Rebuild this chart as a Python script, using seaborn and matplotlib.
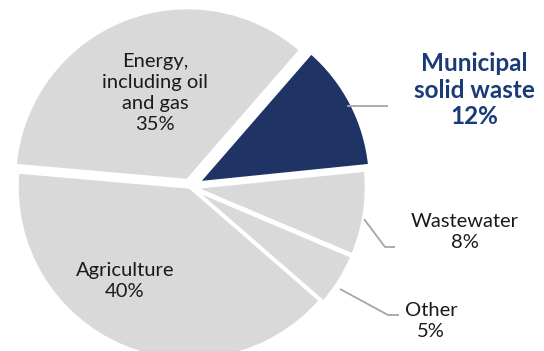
import matplotlib
matplotlib.use("Agg")
import seaborn as sns
import matplotlib.pyplot as plt

sns.set_theme(style="white")
plt.rcParams['font.family'] = ['Lato', 'DejaVu Sans']

# data (clockwise from the left)
sources = ["Energy,\nincluding oil\nand gas", "Municipal\nsolid waste", "Wastewater", "Other", "Agriculture"]
shares = [35, 12, 8, 5, 40]
explode = [0.04, 0.05, 0.02, 0.02, 0.0]

grey = "#d9d9d9"
navy = "#1f3364"
colors = [grey, navy, grey, grey, grey]

W, H = 544, 351
R = 173.0           # pie radius in pixels
CX, CY = 190, 187   # pie centre in pixels (from top-left)


def px(x, y):
    """pixel position -> data coords (pie radius = 1)"""
    return (x - CX) / R, (CY - y) / R


fig = plt.figure(figsize=(W / 100, H / 100), dpi=100)
ax = fig.add_axes([0, 0, 1, 1])
ax.pie(shares, colors=colors, explode=explode, startangle=175, counterclock=False,
       wedgeprops=dict(edgecolor="white", linewidth=2.5))
ax.set_aspect("auto")
ax.set_xlim(-CX / R, (W - CX) / R)
ax.set_ylim(-(H - CY) / R, CY / R)
ax.axis("off")

# labels
txt = dict(ha="center", va="center", fontsize=14.5, color="#1a1a1a", linespacing=1.3)
ax.text(*px(155, 93), f"{sources[0]}\n{shares[0]}%", **txt)
ax.text(*px(125, 281), f"{sources[4]}\n{shares[4]}%", **txt)
ax.text(*px(465, 232), f"{sources[2]}\n{shares[2]}%", **txt)
ax.text(*px(431, 321), f"{sources[3]}\n{shares[3]}%", **txt)
ax.text(*px(474, 90), f"{sources[1]}\n{shares[1]}%", ha="center", va="center",
        fontsize=17.5, fontweight="bold", color="#1b3a78", linespacing=1.2)

# leader lines
line_kw = dict(color="#a6a6a6", lw=1.3, solid_capstyle="butt")
for pts in ([(347, 106), (388, 106)],
            [(364, 219), (385, 247), (395, 247)],
            [(340, 289), (388, 315), (399, 315)]):
    xs, ys = zip(*[px(*p) for p in pts])
    ax.plot(xs, ys, **line_kw)

fig.savefig("out.png", dpi=100, facecolor="white")
